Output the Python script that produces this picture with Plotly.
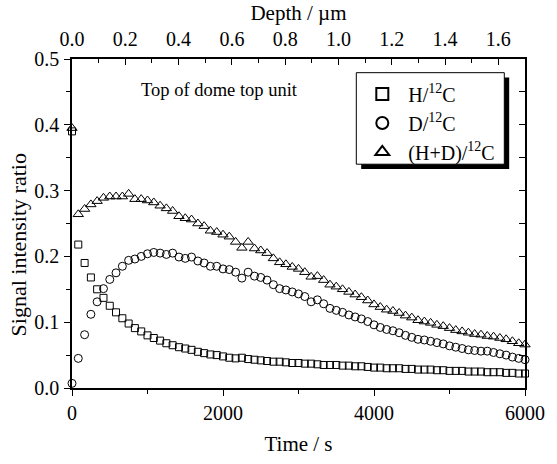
import plotly.graph_objects as go

# ---- data ----
time_s = [0, 83, 167, 250, 333, 417, 500, 583, 667, 750, 833, 917, 1000, 1083, 1167, 1250,
          1333, 1417, 1500, 1583, 1667, 1750, 1833, 1917, 2000, 2083, 2167, 2250, 2333, 2417,
          2500, 2583, 2667, 2750, 2833, 2917, 3000, 3083, 3167, 3250, 3333, 3417, 3500, 3583,
          3667, 3750, 3833, 3917, 4000, 4083, 4167, 4250, 4333, 4417, 4500, 4583, 4667, 4750,
          4833, 4917, 5000, 5083, 5167, 5250, 5333, 5417, 5500, 5583, 5667, 5750, 5833, 5917, 6000]

h_ratio = [0.390, 0.218, 0.190, 0.168, 0.150, 0.137, 0.125, 0.115, 0.106, 0.098, 0.091, 0.086,
           0.080, 0.076, 0.072, 0.068, 0.065, 0.062, 0.060, 0.058, 0.055, 0.053, 0.051, 0.050,
           0.048, 0.046, 0.045, 0.046, 0.044, 0.043, 0.042, 0.041, 0.040, 0.040, 0.039, 0.038,
           0.038, 0.037, 0.037, 0.036, 0.035, 0.035, 0.035, 0.034, 0.034, 0.033, 0.033, 0.032,
           0.031, 0.031, 0.030, 0.030, 0.030, 0.029, 0.029, 0.028, 0.028, 0.028, 0.027, 0.027,
           0.026, 0.026, 0.026, 0.025, 0.025, 0.025, 0.024, 0.024, 0.024, 0.023, 0.023, 0.022, 0.022]

d_ratio = [0.007, 0.045, 0.081, 0.112, 0.131, 0.151, 0.165, 0.175, 0.185, 0.194, 0.196, 0.200,
           0.204, 0.206, 0.205, 0.203, 0.205, 0.199, 0.197, 0.199, 0.193, 0.190, 0.185, 0.185,
           0.181, 0.180, 0.176, 0.167, 0.176, 0.170, 0.168, 0.164, 0.157, 0.151, 0.149, 0.146,
           0.143, 0.139, 0.131, 0.134, 0.128, 0.121, 0.118, 0.115, 0.111, 0.108, 0.105, 0.101,
           0.096, 0.092, 0.089, 0.087, 0.084, 0.080, 0.077, 0.074, 0.073, 0.071, 0.069, 0.067,
           0.064, 0.062, 0.060, 0.058, 0.057, 0.056, 0.056, 0.054, 0.052, 0.050, 0.047, 0.045, 0.043]

hd_ratio = [0.395, 0.264, 0.272, 0.279, 0.284, 0.289, 0.291, 0.291, 0.291, 0.295, 0.287, 0.287,
            0.285, 0.282, 0.277, 0.273, 0.269, 0.261, 0.258, 0.256, 0.250, 0.246, 0.239, 0.237,
            0.233, 0.230, 0.222, 0.213, 0.222, 0.212, 0.209, 0.205, 0.197, 0.191, 0.188, 0.184,
            0.181, 0.176, 0.169, 0.170, 0.164, 0.157, 0.154, 0.150, 0.146, 0.142, 0.138, 0.133,
            0.127, 0.123, 0.119, 0.117, 0.114, 0.110, 0.107, 0.103, 0.101, 0.099, 0.096, 0.094,
            0.091, 0.088, 0.086, 0.084, 0.082, 0.081, 0.079, 0.078, 0.076, 0.074, 0.071, 0.068, 0.066]

series_names = ["H/<sup>12</sup>C", "D/<sup>12</sup>C", "(H+D)/<sup>12</sup>C"]
x_ticks = [0, 2000, 4000, 6000]
depth_ticks = [0.0, 0.2, 0.4, 0.6, 0.8, 1.0, 1.2, 1.4, 1.6]
y_ticks = [0.0, 0.1, 0.2, 0.3, 0.4, 0.5]

FONT = "Liberation Serif, Times New Roman, serif"
FS = 20
FT = 21

fig = go.Figure()
symbols = ["square-open", "circle-open", "triangle-up-open"]
sizes = [7, 8, 9]
for name, vals, sym, sz in zip(series_names, [h_ratio, d_ratio, hd_ratio], symbols, sizes):
    fig.add_trace(go.Scatter(
        x=time_s, y=vals, mode="markers", name=name,
        marker=dict(symbol=sym, size=sz, color="black", line=dict(width=1, color="black")),
        cliponaxis=False,
    ))

# invisible trace to drive the top (depth) axis
fig.add_trace(go.Scatter(x=[0, 1.7], y=[0, 0], xaxis="x2", yaxis="y", mode="markers",
                         marker=dict(opacity=0), showlegend=False, hoverinfo="skip"))
# invisible trace to drive the right mirror axis
fig.add_trace(go.Scatter(x=[0, 0], y=[0, 0.5], xaxis="x", yaxis="y2", mode="markers",
                         marker=dict(opacity=0), showlegend=False, hoverinfo="skip"))

axis_common = dict(showline=True, linecolor="black", linewidth=1.5, showgrid=False,
                   zeroline=False, tickcolor="black", tickwidth=1.2,
                   tickfont=dict(family=FONT, size=FS, color="black"))

fig.update_layout(
    width=557, height=464,
    margin=dict(l=72, r=22, t=58, b=65),
    paper_bgcolor="white", plot_bgcolor="white",
    font=dict(family=FONT, size=FS, color="black"),
    xaxis=dict(range=[0, 6000], tickvals=x_ticks, ticks="outside", ticklen=6,
               minor=dict(dtick=1000, ticks="outside", ticklen=4, tickcolor="black"),
               title=dict(text="Time / s", font=dict(family=FONT, size=FT), standoff=14),
               **axis_common),
    yaxis=dict(range=[0, 0.5], tickvals=y_ticks, tickformat=".1f", ticks="outside", ticklen=6,
               minor=dict(dtick=0.05, ticks="outside", ticklen=4, tickcolor="black"),
               ticklabelstandoff=1,
               **axis_common),
    xaxis2=dict(range=[0, 1.7], overlaying="x", side="top", tickvals=depth_ticks,
                tickformat=".1f", ticks="inside", ticklen=6,
                minor=dict(dtick=0.1, ticks="inside", ticklen=4, tickcolor="black"),
                title=dict(text="Depth / µm", font=dict(family=FONT, size=FT), standoff=2),
                ticklabelstandoff=3,
                **axis_common),
    yaxis2=dict(range=[0, 0.5], overlaying="y", side="right", tickvals=y_ticks,
                showticklabels=False, ticks="inside", ticklen=6,
                minor=dict(dtick=0.05, ticks="inside", ticklen=6, tickcolor="black"),
                **axis_common),
    legend=dict(x=0.6276, y=0.953, xanchor="left", yanchor="top",
                bgcolor="rgba(0,0,0,0)", borderwidth=0,
                font=dict(family=FONT, size=20, color="black"),
                traceorder="normal", itemwidth=42, itemsizing="constant"),
    showlegend=True,
)

# legend drop shadow and frame
fig.add_shape(type="rect", xref="paper", yref="paper",
              x0=0.6384, x1=0.9651, y0=0.6656, y1=0.9438,
              fillcolor="black", line=dict(width=0), layer="above")
fig.add_shape(type="rect", xref="paper", yref="paper",
              x0=0.6276, x1=0.9543, y0=0.6802, y1=0.9584,
              fillcolor="white", line=dict(width=1, color="black"), layer="above")

# y-axis title placed left of the tick labels
fig.add_annotation(text="Signal intensity ratio", xref="paper", yref="paper",
                   x=-0.118, y=0.435, xanchor="center", yanchor="middle", textangle=-90,
                   showarrow=False, font=dict(family=FONT, size=22, color="black"))

fig.add_annotation(text="Top of dome top unit", xref="paper", yref="paper",
                   x=0.148, y=0.905, xanchor="left", yanchor="middle", showarrow=False,
                   font=dict(family=FONT, size=18.5, color="black"))

# remove the default 8px page margin so the figure sits at the window origin
fig.write_html("out.html", config={"displayModeBar": False},
               post_script="document.body.style.margin='0px';")
